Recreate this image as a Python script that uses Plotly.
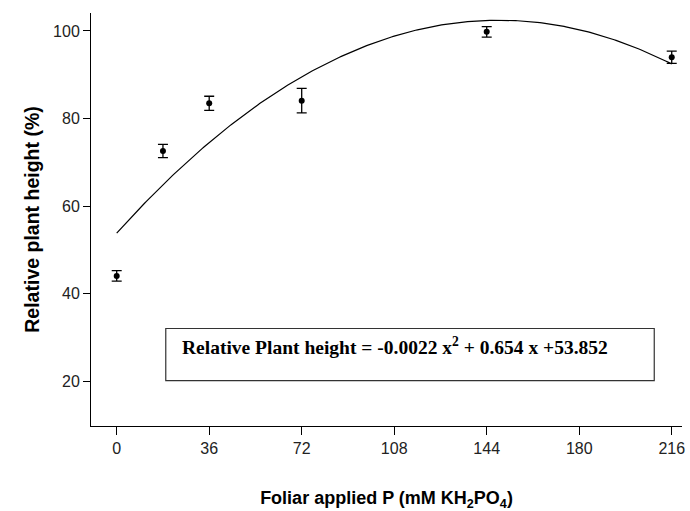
import numpy as np
import plotly.graph_objects as go

# Data
doses = [0, 18, 36, 72, 144, 216]
height_mean = [44.1, 72.6, 83.5, 84.1, 99.8, 94.0]
height_err = [1.2, 1.5, 1.6, 2.8, 1.2, 1.4]

# Quadratic fit coefficients (from the equation shown in the chart)
fit_a, fit_b, fit_c = -0.0022, 0.654, 53.852
x_tick_vals = [0, 36, 72, 108, 144, 180, 216]
y_tick_vals = [20, 40, 60, 80, 100]

x_fit = np.linspace(0, 216, 300)
y_fit = fit_a * x_fit**2 + fit_b * x_fit + fit_c

fig = go.Figure()
fig.add_trace(go.Scatter(
    x=x_fit, y=y_fit, mode="lines",
    line=dict(color="black", width=1.2),
    showlegend=False, hoverinfo="skip"))
fig.add_trace(go.Scatter(
    x=doses, y=height_mean, mode="markers",
    marker=dict(color="black", size=6, symbol="circle"),
    error_y=dict(type="data", array=height_err, visible=True,
                 color="black", thickness=1.3, width=5),
    showlegend=False))

# Equation box
fig.add_shape(type="rect", xref="x", yref="y", x0=19.1, x1=209.2, y0=20.2, y1=32.1,
              line=dict(color="#333333", width=1.2), fillcolor="rgba(0,0,0,0)")
fig.add_annotation(xref="x", yref="y", x=24.8, y=28.2, xanchor="left", yanchor="middle",
                   text="Relative Plant height = -0.0022 x<sup>2</sup> + 0.654 x +53.852",
                   showarrow=False,
                   font=dict(family="Liberation Serif, Times New Roman, serif", size=19.5,
                             color="black", weight="bold"))

fig.update_layout(
    width=690, height=511,
    margin=dict(l=91, r=5, t=13, b=83),
    paper_bgcolor="white", plot_bgcolor="white",
    font=dict(family="Liberation Sans, Arial, sans-serif", color="#222222"),
)
fig.update_xaxes(
    range=[-10, 220], tickvals=x_tick_vals, ticktext=[str(v) for v in x_tick_vals],
    showline=True, linecolor="black", linewidth=1, showgrid=False, zeroline=False,
    ticks="outside", ticklen=8, tickcolor="black", tickwidth=1,
    tickfont=dict(size=16, color="#222222"),
    title=dict(text="Foliar applied P (mM KH<sub>2</sub>PO<sub>4</sub>)",
               font=dict(size=18, color="black", weight="bold"), standoff=36),
)
fig.update_yaxes(
    range=[9.85, 104.1], tickvals=y_tick_vals,
    showline=True, linecolor="black", linewidth=1, showgrid=False, zeroline=False,
    ticks="outside", ticklen=7, tickcolor="black", tickwidth=1,
    tickfont=dict(size=16, color="#222222"),
    title=dict(text="Relative plant height (%)",
               font=dict(size=19.5, color="black", weight="bold"), standoff=8),
)

fig.write_html("out.html")
